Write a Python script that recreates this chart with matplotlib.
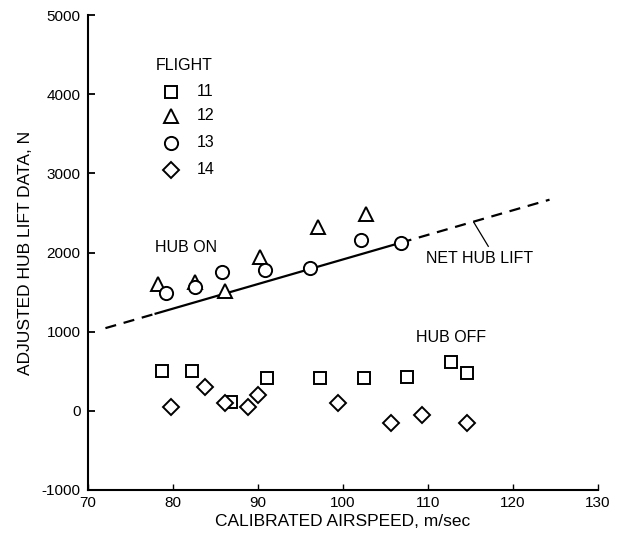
import matplotlib
matplotlib.use("Agg")
import matplotlib.pyplot as plt

plt.rcParams['font.family'] = ['Liberation Sans', 'DejaVu Sans']
plt.rcParams['axes.unicode_minus'] = False

# Flight 11 (squares)
f11_x = [78.8, 82.3, 86.9, 91.1, 97.3, 102.5, 107.5, 112.7, 114.6]
f11_y = [500, 505, 110, 420, 420, 420, 425, 615, 480]
# Flight 12 (triangles)
f12_x = [78.3, 82.6, 86.2, 90.3, 97.1, 102.7]
f12_y = [1600, 1630, 1520, 1940, 2320, 2485]
# Flight 13 (circles)
f13_x = [79.2, 82.6, 85.8, 90.9, 96.2, 102.1, 106.8]
f13_y = [1485, 1560, 1750, 1785, 1805, 2160, 2120]
# Flight 14 (diamonds)
f14_x = [79.8, 83.8, 86.2, 88.9, 90.0, 99.4, 105.7, 109.3, 114.6]
f14_y = [45, 300, 95, 45, 195, 95, -150, -50, -150]

# Net hub lift line
line_dash1_x = [72.1, 78.0]
line_dash1_y = [1045, 1228]
line_solid_x = [78.0, 106.8]
line_solid_y = [1228, 2124]
line_dash2_x = [106.8, 124.3]
line_dash2_y = [2124, 2668]

fig = plt.figure(figsize=(6.21, 5.40), dpi=100)
ax = fig.add_axes([0.141, 0.0926, 0.822, 0.8794])

lw = 1.6
ax.plot(line_dash1_x, line_dash1_y, color='black', lw=lw, dashes=(5, 3.5))
ax.plot(line_solid_x, line_solid_y, color='black', lw=lw)
ax.plot(line_dash2_x, line_dash2_y, color='black', lw=lw, dashes=(5, 3.5))

mk = dict(linestyle='none', markerfacecolor='white', markeredgecolor='black', markeredgewidth=1.4)
ax.plot(f11_x, f11_y, marker='s', markersize=9, **mk, zorder=3)
ax.plot(f12_x, f12_y, marker='^', markersize=10, **mk, zorder=3)
ax.plot(f13_x, f13_y, marker='o', markersize=9.5, **mk, zorder=3)
ax.plot(f14_x, f14_y, marker='D', markersize=8.5, **mk, zorder=3)

fs = 11.5
# legend drawn manually
leg_markers = ['s', '^', 'o', 'D']
leg_sizes = [9, 10, 9.5, 8.5]
leg_labels = ['11', '12', '13', '14']
leg_y = [4030, 3730, 3385, 3045]
ax.text(78.0, 4360, 'FLIGHT', fontsize=fs, va='center', ha='left')
for m, s, lab, yy in zip(leg_markers, leg_sizes, leg_labels, leg_y):
    ax.plot([79.8], [yy], marker=m, markersize=s, **mk)
    ax.text(82.8, yy, lab, fontsize=fs, va='center', ha='left')

ax.text(77.9, 2070, 'HUB ON', fontsize=fs, va='center', ha='left')
ax.text(108.6, 930, 'HUB OFF', fontsize=fs, va='center', ha='left')
ax.text(109.8, 1919, 'NET HUB LIFT', fontsize=fs, va='center', ha='left')
ax.plot([115.4, 117.1], [2382, 2079], color='black', lw=0.9)

ax.set_xlim(70, 130)
ax.set_ylim(-1000, 5000)
ax.set_xticks([70, 80, 90, 100, 110, 120, 130])
ax.set_yticks([-1000, 0, 1000, 2000, 3000, 4000, 5000])
ax.spines['top'].set_visible(False)
ax.spines['right'].set_visible(False)
ax.spines['left'].set_linewidth(1.5)
ax.spines['bottom'].set_linewidth(1.5)
ax.tick_params(axis='y', direction='in', length=5, width=1.3, pad=5, labelsize=11)
ax.tick_params(axis='x', direction='in', length=4, width=1.0, pad=4, labelsize=11)
ax.set_xlabel('CALIBRATED AIRSPEED, m/sec', fontsize=12.5, labelpad=3)
ax.set_ylabel('ADJUSTED HUB LIFT DATA, N', fontsize=12.5, labelpad=6)

fig.savefig('out.png', dpi=100)
